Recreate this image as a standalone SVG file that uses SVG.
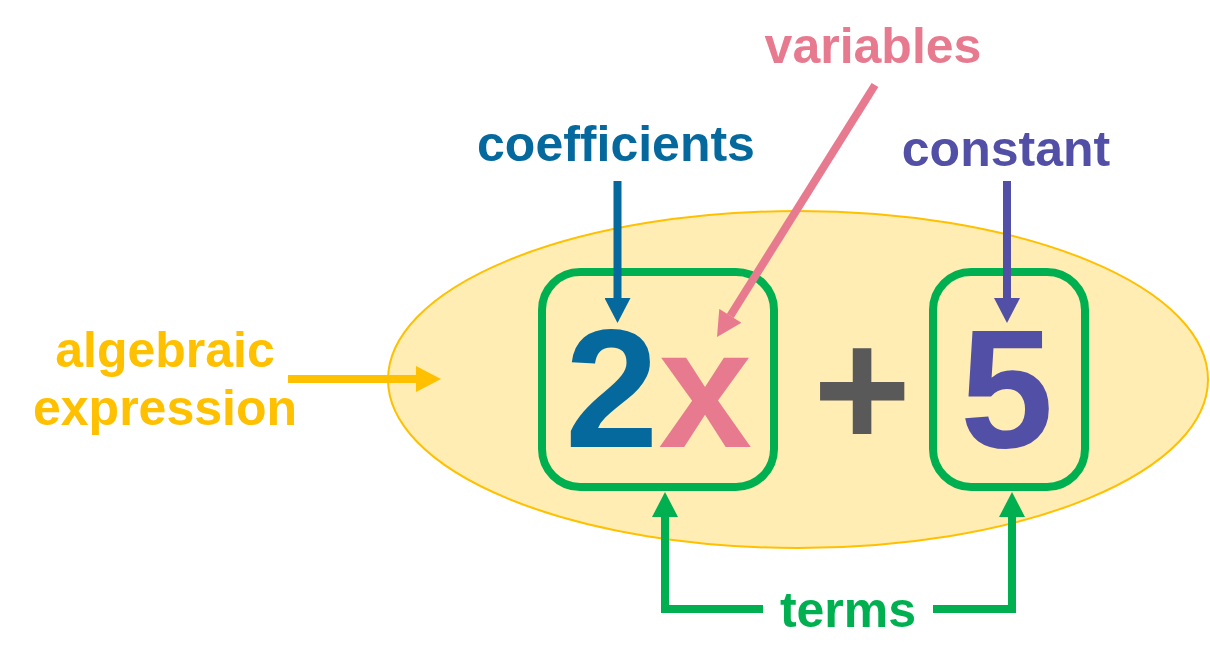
<svg xmlns="http://www.w3.org/2000/svg" width="1210" height="670" viewBox="0 0 1210 670">
<style>
text{font-family:"Liberation Sans",Arial,sans-serif;font-weight:bold}
.lbl{font-size:50px;text-anchor:middle}
.big{font-size:168px}
.ln{fill:none;stroke-width:8}
.box{fill:none;stroke:#00B050;stroke-width:8}
</style>
<defs>
<marker id="ah" markerUnits="userSpaceOnUse" markerWidth="26" markerHeight="26" refX="0" refY="13" orient="auto" viewBox="0 0 25 26"><path d="M0,0 L25,13 L0,26 z" fill="context-stroke"/></marker>
<marker id="ahB" markerUnits="userSpaceOnUse" markerWidth="26" markerHeight="26" refX="0" refY="13" orient="auto" viewBox="0 0 25 26"><path d="M0,0 L25,13 L0,26 z" fill="#05699D"/></marker>
<marker id="ahP" markerUnits="userSpaceOnUse" markerWidth="26" markerHeight="26" refX="0" refY="13" orient="auto" viewBox="0 0 25 26"><path d="M0,0 L25,13 L0,26 z" fill="#E87A90"/></marker>
<marker id="ahV" markerUnits="userSpaceOnUse" markerWidth="26" markerHeight="26" refX="0" refY="13" orient="auto" viewBox="0 0 25 26"><path d="M0,0 L25,13 L0,26 z" fill="#524FA6"/></marker>
<marker id="ahY" markerUnits="userSpaceOnUse" markerWidth="26" markerHeight="26" refX="0" refY="13" orient="auto" viewBox="0 0 25 26"><path d="M0,0 L25,13 L0,26 z" fill="#FFC000"/></marker>
<marker id="ahG" markerUnits="userSpaceOnUse" markerWidth="26" markerHeight="26" refX="0" refY="13" orient="auto" viewBox="0 0 25 26"><path d="M0,0 L25,13 L0,26 z" fill="#00B050"/></marker>
</defs>
<g id="expression">
<ellipse cx="798" cy="379.5" rx="410" ry="168.5" fill="#FFEDB3" stroke="#FFC000" stroke-width="2"/>
</g>
<g id="term1">
<rect class="box" x="542" y="272" width="232" height="215" rx="38"/>
<text class="big" x="565" y="447"><tspan fill="#05699D">2</tspan><tspan fill="#E87A90">x</tspan></text>
</g>
<g id="plus">
<text class="big" x="813" y="447" fill="#595959">+</text>
</g>
<g id="term2">
<rect class="box" x="933" y="272" width="152" height="215" rx="38"/>
<text class="big" x="960" y="447" fill="#524FA6">5</text>
</g>
<g id="label-algebraic">
<text class="lbl" x="165" y="367" fill="#FFC000">algebraic</text>
<text class="lbl" x="165" y="425" fill="#FFC000">expression</text>
</g>
<g id="label-coefficients">
<text class="lbl" x="616" y="161" fill="#05699D">coefficients</text>
</g>
<g id="label-variables">
<text class="lbl" x="873" y="63" fill="#E87A90">variables</text>
</g>
<g id="label-constant">
<text class="lbl" x="1006" y="166" fill="#524FA6">constant</text>
</g>
<g id="label-terms">
<text class="lbl" x="848" y="627" fill="#00B050">terms</text>
</g>
<g id="connectors">
<path class="ln" stroke="#05699D" d="M617.5,181 V298" marker-end="url(#ahB)"/>
<path class="ln" stroke="#524FA6" d="M1007,181 V298" marker-end="url(#ahV)"/>
<path class="ln" stroke="#E87A90" d="M875,85 L730.3,315.8" marker-end="url(#ahP)"/>
<path class="ln" stroke="#FFC000" d="M288,379 H416" marker-end="url(#ahY)"/>
<path class="ln" stroke="#00B050" d="M763,609 H665 V517" marker-end="url(#ahG)"/>
<path class="ln" stroke="#00B050" d="M933,609 H1012 V517" marker-end="url(#ahG)"/>
</g>
</svg>
